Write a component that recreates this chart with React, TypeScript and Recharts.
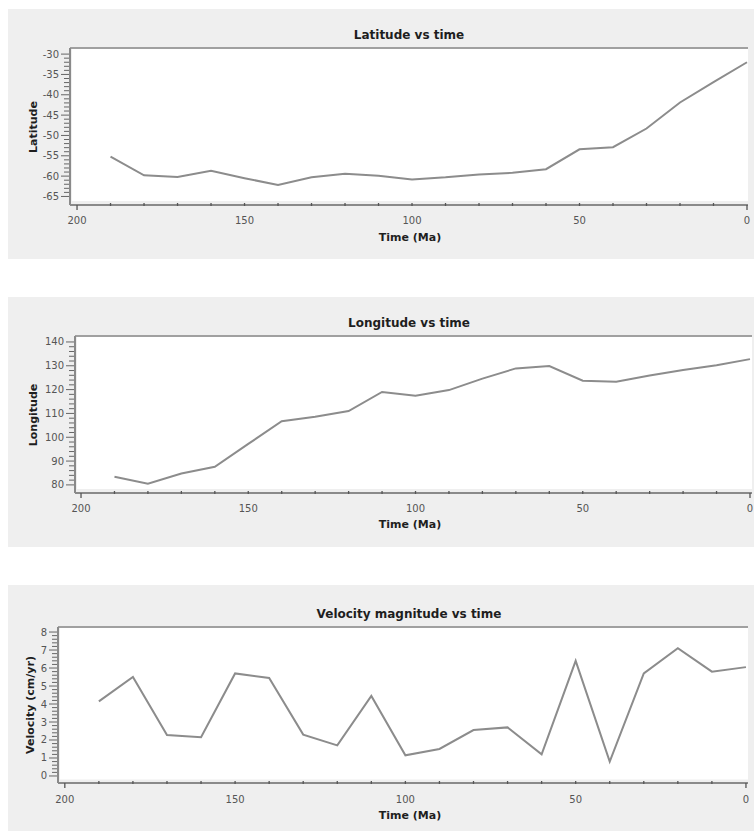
import { Line, LineChart, ReferenceArea, ReferenceLine, XAxis, YAxis } from 'recharts'

// time steps in Ma
const times = [190, 180, 170, 160, 150, 140, 130, 120, 110, 100, 90, 80, 70, 60, 50, 40, 30, 20, 10, 0]
const latitude = [-55.2, -59.8, -60.2, -58.7, -60.5, -62.2, -60.3, -59.4, -59.9, -60.8, -60.3, -59.6, -59.2, -58.3, -53.4, -52.9, -48.3, -41.9, -36.9, -32]
const longitude = [83.4, 80.5, 84.8, 87.6, 97.2, 106.7, 108.6, 111, 119, 117.4, 119.8, 124.6, 128.9, 129.9, 123.7, 123.3, 125.9, 128.2, 130.2, 132.8]
const velocity = [4.15, 5.5, 2.28, 2.15, 5.7, 5.45, 2.3, 1.7, 4.45, 1.15, 1.5, 2.55, 2.7, 1.2, 6.4, 0.8, 5.7, 7.1, 5.8, 6.05]

const timeTicks = [200, 190, 180, 170, 160, 150, 140, 130, 120, 110, 100, 90, 80, 70, 60, 50, 40, 30, 20, 10, 0]
const timeLabels = [200, 150, 100, 50, 0]
const latLabels = [-65, -60, -55, -50, -45, -40, -35, -30]
const lonLabels = [80, 90, 100, 110, 120, 130, 140]
const velLabels = [0, 1, 2, 3, 4, 5, 6, 7, 8]

const rows = times.map((t, i) => ({ t, lat: latitude[i], lon: longitude[i], vel: velocity[i] }))

// minor tick positions between the first and last label
function minors(labels: number[], step: number) {
  const out: number[] = []
  const n = Math.round((labels[labels.length - 1] - labels[0]) / step)
  for (let i = 0; i <= n; i++) out.push(+(labels[0] + i * step).toFixed(4))
  return out
}

const FONT = "'DejaVu Sans', Verdana, sans-serif"
const AXIS = '#8a8a8a'

const XTick = (p: any) => {
  const { x, y, payload } = p
  const v = payload.value
  const end = v === 0 || v === 200
  return (
    <g>
      <line x1={x} x2={x} y1={end ? y : y - 2} y2={end ? y + 5 : y + 1} stroke="#555" strokeWidth={1.3} />
      {timeLabels.includes(v) && (
        <text x={x} y={y + p.gap} textAnchor="middle" fontSize={10} fill="#555" fontFamily={FONT}>
          {v}
        </text>
      )}
    </g>
  )
}

const YTick = (p: any) => {
  const { x, y, payload } = p
  const v = payload.value
  const major = p.labels.includes(v)
  return (
    <g>
      <line x1={major ? x - 9 : x - 6} x2={x - 1} y1={y} y2={y} stroke="#666" strokeWidth={1} />
      {major && (
        <text x={x - 11} y={y + 3.5} textAnchor="end" fontSize={10} fill="#555" fontFamily={FONT}>
          {v}
        </text>
      )}
    </g>
  )
}

type Cfg = {
  top: number
  title: string
  titleY: number
  yLabel: string
  yLabelX: number
  dataKey: string
  yAxisX: number
  plotRight: number
  plotTop: number
  axisY: number
  yDomain: [number, number]
  whiteBottom: number
  xDomain: [number, number]
  labels: number[]
  minorStep: number
  tickGap: number
  xLabelY: number
}

const panels: Cfg[] = [
  {
    top: 9, title: 'Latitude vs time', titleY: 26, yLabel: 'Latitude', yLabelX: 25, dataKey: 'lat',
    yAxisX: 62, plotRight: 740, plotTop: 39, axisY: 196, yDomain: [-67.1, -28.5], whiteBottom: -66.1,
    xDomain: [-0.3, 202.1], labels: latLabels, minorStep: 1, tickGap: 19, xLabelY: 228,
  },
  {
    top: 297, title: 'Longitude vs time', titleY: 26, yLabel: 'Longitude', yLabelX: 25, dataKey: 'lon',
    yAxisX: 67, plotRight: 744, plotTop: 39, axisY: 196, yDomain: [76.6, 142.5], whiteBottom: 78.3,
    xDomain: [-0.6, 201.8], labels: lonLabels, minorStep: 2, tickGap: 19, xLabelY: 227,
  },
  {
    top: 585, title: 'Velocity magnitude vs time', titleY: 29, yLabel: 'Velocity (cm/yr)', yLabelX: 22, dataKey: 'vel',
    yAxisX: 50, plotRight: 740, plotTop: 42, axisY: 198, yDomain: [-0.39, 8.28], whiteBottom: -0.2,
    xDomain: [-0.6, 202], labels: velLabels, minorStep: 0.2, tickGap: 20, xLabelY: 230,
  },
]

function Panel({ c }: { c: Cfg }) {
  const W = 746
  const H = 250
  return (
    <div style={{ position: 'absolute', left: 8, top: c.top, width: W, height: H, background: '#efefef', fontFamily: FONT }}>
      <LineChart
        width={W}
        height={H}
        data={rows}
        margin={{ top: c.plotTop, right: W - c.plotRight, left: 0, bottom: H - c.axisY - 40 }}
      >
        <ReferenceArea
          x1={c.xDomain[1] - 0.6}
          x2={c.xDomain[0]}
          y1={c.whiteBottom}
          y2={c.yDomain[1]}
          fill="#ffffff"
          fillOpacity={1}
          stroke="none"
        />
        <ReferenceLine y={c.yDomain[1]} stroke="#a0a0a0" strokeWidth={2} />
        <XAxis
          dataKey="t"
          type="number"
          domain={c.xDomain}
          reversed
          allowDataOverflow
          ticks={timeTicks}
          interval={0}
          height={40}
          tickSize={0}
          tickMargin={0}
          tickLine={false}
          axisLine={{ stroke: AXIS, strokeWidth: 2 }}
          tick={<XTick gap={c.tickGap} />}
        />
        <YAxis
          type="number"
          domain={c.yDomain}
          allowDataOverflow
          ticks={minors(c.labels, c.minorStep)}
          interval={0}
          width={c.yAxisX}
          tickSize={0}
          tickMargin={0}
          tickLine={false}
          axisLine={{ stroke: AXIS, strokeWidth: 2 }}
          tick={<YTick labels={c.labels} />}
        />
        <Line dataKey={c.dataKey} type="linear" stroke="#8c8c8c" strokeWidth={2} dot={false} isAnimationActive={false} />
      </LineChart>
      <div
        style={{
          position: 'absolute', left: 401, top: c.titleY, transform: 'translate(-50%, -50%)',
          fontWeight: 'bold', fontSize: 12, color: '#1e1e1e', whiteSpace: 'nowrap',
        }}
      >
        {c.title}
      </div>
      <div
        style={{
          position: 'absolute', left: 402, top: c.xLabelY, transform: 'translate(-50%, -50%)',
          fontWeight: 'bold', fontSize: 11, color: '#1e1e1e', whiteSpace: 'nowrap',
        }}
      >
        Time (Ma)
      </div>
      <div
        style={{
          position: 'absolute', left: c.yLabelX, top: (c.plotTop + c.axisY) / 2,
          transform: 'translate(-50%, -50%) rotate(-90deg)',
          fontWeight: 'bold', fontSize: 11, color: '#1e1e1e', whiteSpace: 'nowrap',
        }}
      >
        {c.yLabel}
      </div>
    </div>
  )
}

export default function App() {
  return (
    <div style={{ position: 'absolute', left: 0, top: 0, width: 754, height: 831, overflow: 'hidden', background: '#fff' }}>
      {panels.map((c) => (
        <Panel key={c.dataKey} c={c} />
      ))}
    </div>
  )
}
